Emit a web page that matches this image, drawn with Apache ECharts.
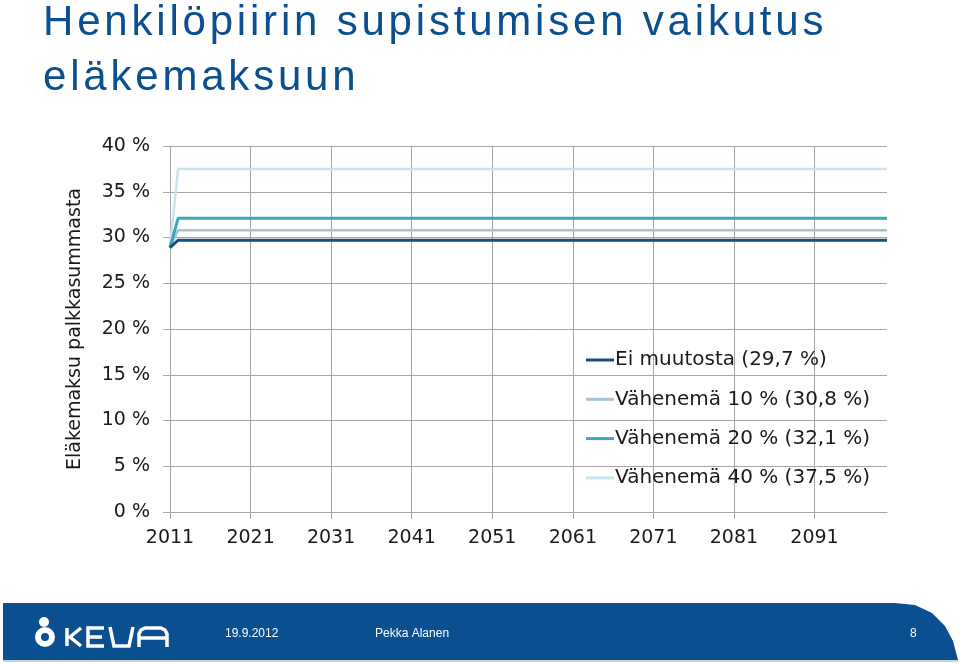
<!DOCTYPE html>
<html>
<head>
<meta charset="utf-8">
<script src="https://cdn.jsdelivr.net/npm/echarts@6/dist/echarts.min.js"></script>
<style>
html,body{margin:0;padding:0;background:#fff;}
#c{width:960px;height:663px;}
</style>
</head>
<body>
<div id="c"></div>
<script>
// ---- data ----
const firstYear = 2011;
const lastYear = 2100;
const years = [];
for (let y = firstYear; y <= lastYear; y++) years.push(String(y));

const seriesNames = [
  'Ei muutosta (29,7 %)',
  'Vähenemä 10 % (30,8 %)',
  'Vähenemä 20 % (32,1 %)',
  'Vähenemä 40 % (37,5 %)'
];
const pointYears = ['2011', '2012', '2100'];
const eiMuutosta = [28.9, 29.7, 29.7];
const vahenema10 = [28.9, 30.8, 30.8];
const vahenema20 = [28.9, 32.1, 32.1];
const vahenema40 = [28.9, 37.5, 37.5];
const yTicks = [0, 5, 10, 15, 20, 25, 30, 35, 40];
const titleLines = ['Henkilöpiirin supistumisen vaikutus', 'eläkemaksuun'];

const colors = ['#174e7c', '#a9c3d2', '#3ca7b7', '#c9e4ec'];
const widths = [3, 2.5, 3, 2.5];

function pairs(vals){ return pointYears.map((y,i)=>[y, vals[i]]); }
const allVals = [eiMuutosta, vahenema10, vahenema20, vahenema40];

// spaced title built from characters
const titleFont = '42px "Liberation Sans"';
const mctx = document.createElement('canvas').getContext('2d');
mctx.font = titleFont;
const titleEls = [];
titleLines.forEach((line, li) => {
  let x = 43;
  for (const ch of line) {
    titleEls.push({type: 'text', x: x, y: 2 + li * 55, style: {text: ch, font: titleFont, fill: '#0b4f8e', verticalAlign: 'top'}});
    x += mctx.measureText(ch).width + 3.8;
  }
});

const W = {stroke:'#fff', lineWidth: 3.5, fill: null};

const chart = echarts.init(document.getElementById('c'));
const font = 'DejaVu Sans';
chart.setOption({
  animation: false,
  grid: {left: 170, right: 73, top: 146, bottom: 151, containLabel: false},
  legend: {
    orient: 'vertical',
    left: 581, top: 345,
    itemWidth: 28, itemHeight: 3, itemGap: 19.3,
    icon: 'rect',
    textStyle: {fontFamily: font, fontSize: 20, color: '#1a1a1a', padding: [0,0,0,-4]},
    data: seriesNames
  },
  xAxis: {
    type: 'category',
    data: years,
    boundaryGap: false,
    axisLine: {lineStyle: {color: '#a6a6a6', width: 1}},
    axisTick: {show: true, interval: 9, length: 7, lineStyle: {color: '#a6a6a6'}},
    axisLabel: {interval: 9, margin: 17, fontFamily: font, fontSize: 19, color: '#1a1a1a'},
    splitLine: {show: true, interval: 9, lineStyle: {color: '#a6a6a6', width: 1}}
  },
  yAxis: {
    type: 'value',
    min: yTicks[0], max: yTicks[yTicks.length-1], interval: 5,
    name: 'Eläkemaksu palkkasummasta',
    nameLocation: 'middle',
    nameGap: 85,
    nameTextStyle: {fontFamily: font, fontSize: 19, color: '#1a1a1a'},
    axisLine: {show: false},
    axisTick: {show: true, length: 7, lineStyle: {color: '#a6a6a6'}},
    axisLabel: {margin: 20, formatter: '{value} %', fontFamily: font, fontSize: 19, color: '#1a1a1a'},
    splitLine: {show: true, lineStyle: {color: '#a6a6a6', width: 1}}
  },
  series: seriesNames.map((n,i)=>({
    name: n, type: 'line', data: pairs(allVals[i]),
    showSymbol: false, symbol: 'none',
    lineStyle: {color: colors[i], width: widths[i]},
    itemStyle: {color: colors[i]},
    z: [5,3,4,2][i]
  })),
  graphic: titleEls.concat([
    {type: 'polygon', shape: {points: [[3,603],[895,603],[915,605],[932,613],[945,626],[953,641],[958,660],[3,660]]}, style: {fill: '#0a5091'}},
    {type: 'rect', shape: {x: 3, y: 660, width: 955, height: 2}, style: {fill: '#c8d3de'}},
    // KEVA logo
    {type: 'circle', shape: {cx: 44, cy: 622, r: 5}, style: {fill: '#fff'}},
    {type: 'ring', shape: {cx: 45, cy: 637, r: 10, r0: 4}, style: {fill: '#fff'}},
    {type: 'polyline', shape: {points: [[67,628],[67,646]]}, style: W},
    {type: 'polyline', shape: {points: [[81,628],[70,637],[81,646]]}, style: W},
    {type: 'polyline', shape: {points: [[104,628],[88,628],[88,646],[104,646]]}, style: W},
    {type: 'polyline', shape: {points: [[88,637],[102,637]]}, style: W},
    {type: 'polyline', shape: {points: [[110,627],[114,646],[129,646],[133,627]]}, style: W},
    {type: 'polyline', shape: {points: [[139,647],[139,634],[141,630],[145,628],[161,628],[165,630],[167,634],[167,647]]}, style: W},
    {type: 'polyline', shape: {points: [[140,638],[166,638]]}, style: W},
    {type: 'text', x: 225, y: 628, style: {text: '19.9.2012', fill: '#fff', font: '12px "Liberation Sans"'}},
    {type: 'text', x: 375, y: 628, style: {text: 'Pekka Alanen', fill: '#fff', font: '12px "Liberation Sans"'}},
    {type: 'text', x: 910, y: 628, style: {text: '8', fill: '#fff', font: '12px "Liberation Sans"'}}
  ])
});
</script>
</body>
</html>
